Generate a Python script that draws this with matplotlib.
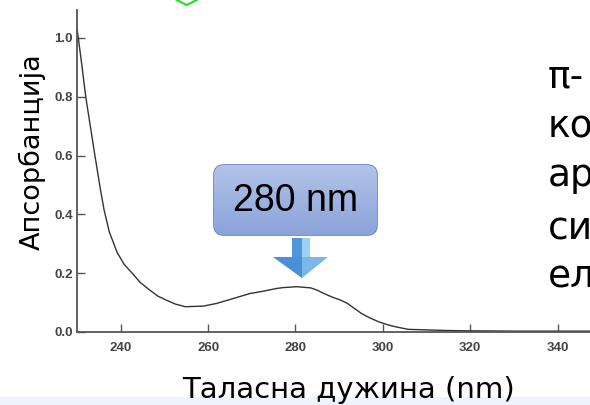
import numpy as np
import matplotlib
matplotlib.use("Agg")
import matplotlib.pyplot as plt
from matplotlib.patches import FancyBboxPatch, Polygon, Rectangle

# absorption spectrum
wavelength = [230, 231, 232, 234.1, 235.3, 236.2, 237.4, 239.2, 240.8, 242.8, 244.5,
              246.7, 248.5, 250.5, 252.5, 254.8, 258.9, 261.9, 265.8, 269.6, 272,
              275.7, 277.2, 280.3, 283.5, 285, 286.5, 288.5, 290.4, 291.9, 293.5,
              295.1, 297, 299, 301, 302.8, 305.8, 310.4, 315, 320, 330, 340, 347.4]
absorbance = [1.034, 0.92, 0.8, 0.6, 0.49, 0.415, 0.34, 0.27, 0.23, 0.197, 0.168,
              0.142, 0.122, 0.108, 0.095, 0.086, 0.088, 0.097, 0.114, 0.131, 0.137,
              0.148, 0.151, 0.154, 0.150, 0.142, 0.131, 0.118, 0.108, 0.097, 0.08,
              0.063, 0.048, 0.035, 0.025, 0.018, 0.009, 0.007, 0.005, 0.004, 0.003,
              0.003, 0.003]

xticks = [240, 260, 280, 300, 320, 340]
yticks = [0.0, 0.2, 0.4, 0.6, 0.8, 1.0]
ylabel = "Апсорбанција"
xlabel = "Таласна дужина (nm)"
peak_label = "280 nm"
side_text = ["π-", "ко", "ар", "си", "ел"]

W, H = 590, 405
fig = plt.figure(figsize=(W / 100, H / 100), dpi=100)
fig.patch.set_facecolor("white")

# spectrum axes
ax = fig.add_axes([77 / W, (H - 332) / H, (W - 77) / W, (332 - 10) / H])
ax.plot(wavelength, absorbance, color="#333333", lw=1.0)
ax.set_xlim(230, 347.4)
ax.set_ylim(0, 1.095)
ax.set_xticks(xticks)
ax.set_yticks(yticks)
ax.set_yticklabels(["%.1f" % v for v in yticks])
for s in ["top", "right"]:
    ax.spines[s].set_visible(False)
for s in ["left", "bottom"]:
    ax.spines[s].set_color("#555555")
    ax.spines[s].set_linewidth(1.3)
ax.tick_params(axis="both", direction="in", length=6, width=1, color="#555555",
               labelsize=9.5, labelcolor="#444444")
ax.tick_params(axis="y", pad=3)
ax.tick_params(axis="x", pad=7)
for lab in ax.get_xticklabels() + ax.get_yticklabels():
    lab.set_fontweight("bold")
    lab.set_family("Liberation Sans")
ax.set_facecolor("none")

# overlay in pixel coordinates for the slide decorations
ov = fig.add_axes([0, 0, 1, 1], zorder=5)
ov.set_xlim(0, W)
ov.set_ylim(H, 0)
ov.axis("off")
ov.patch.set_visible(False)

ov.add_patch(Rectangle((0, 397), W, 8, color="#eef4fb", lw=0))
ov.plot([176.7, 186.7, 196.7], [0, 5, 0], color="#22dd22", lw=1.5)

# callout box with gradient
box = FancyBboxPatch((214, 165), 163, 70, boxstyle="round,pad=0,rounding_size=10",
                     facecolor="none", edgecolor="#5b7fc9", lw=1.2)
ov.add_patch(box)
grad = np.linspace(0, 1, 64).reshape(-1, 1)
top = np.array(matplotlib.colors.to_rgb("#b2c3e7"))
bot = np.array(matplotlib.colors.to_rgb("#8aa3da"))
img = top + (bot - top) * grad[:, :, None]
im = ov.imshow(img, extent=[214, 377, 235, 165], aspect="auto", zorder=1)
im.set_clip_path(box)
ov.text(296, 201, peak_label, ha="center", va="center", fontsize=27,
        family="Liberation Sans", color="black", zorder=3)

# down arrow
ov.add_patch(Polygon([(292, 238), (302, 238), (302, 257), (292, 257)], color="#4f96dc", lw=0))
ov.add_patch(Polygon([(302, 238), (310, 238), (310, 257), (302, 257)], color="#9dd0f5", lw=0))
ov.add_patch(Polygon([(273, 257), (302, 257), (302, 278)], color="#4a90d9", lw=0))
ov.add_patch(Polygon([(302, 257), (328, 257), (302, 278)], color="#7ab8ec", lw=0))

# axis titles
ov.text(32, 152, ylabel, rotation=90, ha="center", va="center", fontsize=19.5,
        family="DejaVu Sans", color="black")
ov.text(348, 398, xlabel, ha="center", va="baseline", fontsize=21,
        family="DejaVu Sans", color="black")

# text running off the right edge, as on the slide
for t, yb in zip(side_text, [88, 137, 186, 240, 287]):
    ov.text(548, yb, t, ha="left", va="baseline", fontsize=27,
            family="DejaVu Sans", color="black", clip_on=True)

fig.savefig("out.png", dpi=100)
